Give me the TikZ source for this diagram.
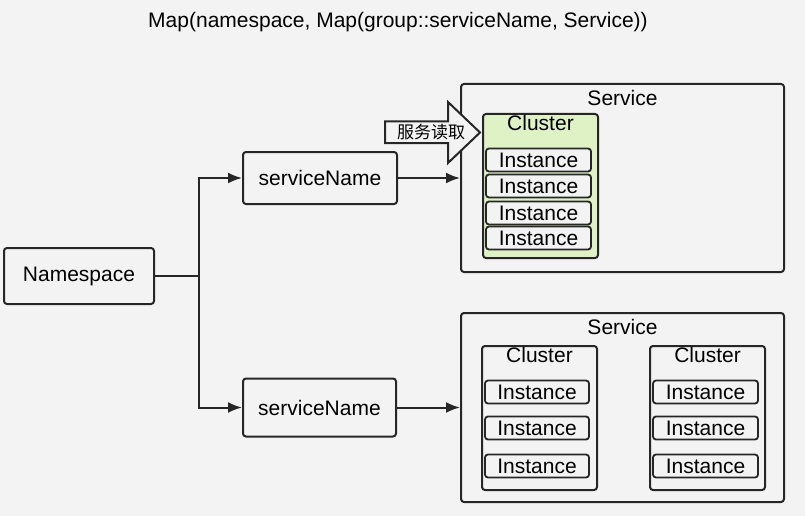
\documentclass[tikz,border=0pt]{standalone}
\usepackage{fontspec}
\setmainfont{Liberation Sans}
\newfontfamily\cjkfont{Noto Sans CJK SC}
\usetikzlibrary{arrows,arrows.meta,positioning}
\usepackage{xcolor}
\definecolor{bggray}{HTML}{F3F3F3}
\definecolor{linegray}{HTML}{262626}
\definecolor{clustergreen}{HTML}{DFF2C6}

\begin{document}
\begin{tikzpicture}[x=1pt, y=-1pt, node distance=1pt]
\tikzset{
    mybox/.style={rectangle, rounded corners=3pt, draw=linegray, fill=bggray, line width=2pt, inner sep=0pt, font=\fontsize{21}{24}\selectfont},
    myservice/.style={mybox, minimum width=323, minimum height=188},
    mycluster/.style={mybox, minimum width=115, minimum height=144},
    myinstance/.style={mybox, line width=1.8pt, minimum width=105, minimum height=23},
    mylabel/.style={inner sep=0pt, font=\fontsize{21}{24}\selectfont},
    myarrow/.style={-{Latex[length=14pt, width=11pt]}, line width=2pt, draw=linegray},
    myline/.style={line width=2pt, draw=linegray}
}
\fill[bggray] (0,0) rectangle (805,516);
\useasboundingbox (0,0) rectangle (805,516);

\node[mylabel] (title) at (398,22) {Map(namespace, Map(group::serviceName, Service))};

\node[mybox, minimum width=150, minimum height=56] (namespace) at (79,276) {Namespace};
\node[mybox, minimum width=154, minimum height=52] (name1) at (320,178) {serviceName};
\node[mybox, minimum width=153, minimum height=58] (name2) at (319.5,407.5) {serviceName};

% first service, one cluster
\node[myservice] (service1) at (622.5,178) {};
\node[mylabel, below=7pt of service1.north] (service1label) {Service};
\node[mycluster, fill=clustergreen] (cluster1) at (540.5,186) {};
\node[mylabel, below=2.5pt of cluster1.north] (cluster1label) {Cluster};
\foreach \y [count=\i] in {160,186,213,238}
    \node[myinstance] (inst1\i) at (538.5,\y) {Instance};

% second service, two clusters
\node[myservice, minimum height=189] (service2) at (622.5,407.5) {};
\node[mylabel, below=7pt of service2.north] (service2label) {Service};
\node[mycluster] (cluster2) at (539.5,418) {};
\node[mylabel, below=2.5pt of cluster2.north] (cluster2label) {Cluster};
\node[mycluster] (cluster3) at (707.5,418) {};
\node[mylabel, below=2.5pt of cluster3.north] (cluster3label) {Cluster};
\foreach \y [count=\i] in {392,428,466} {
    \node[myinstance, minimum width=104] (inst2\i) at (537,\y) {Instance};
    \node[myinstance, minimum width=105] (inst3\i) at (705.5,\y) {Instance};
}

% read arrow
\draw[myline, fill=bggray, line join=miter] (385,121.5) -- (448,121.5) -- (448,102) -- (480,132.5)
    -- (448,163) -- (448,143) -- (385,143) -- cycle;
\node[font=\cjkfont\fontsize{17}{19}\selectfont, inner sep=0pt] (readlabel) at (431,132) {服务读取};

\draw[myline] (namespace.east) -- ++(44,0) coordinate (split);
\draw[myarrow] (split) |- (name1.west);
\draw[myarrow] (split) |- (name2.west);
\draw[myarrow] (name1.east) -- (name1.east -| service1.west);
\draw[myarrow] (name2.east) -- (name2.east -| service2.west);

\end{tikzpicture}
\end{document}
